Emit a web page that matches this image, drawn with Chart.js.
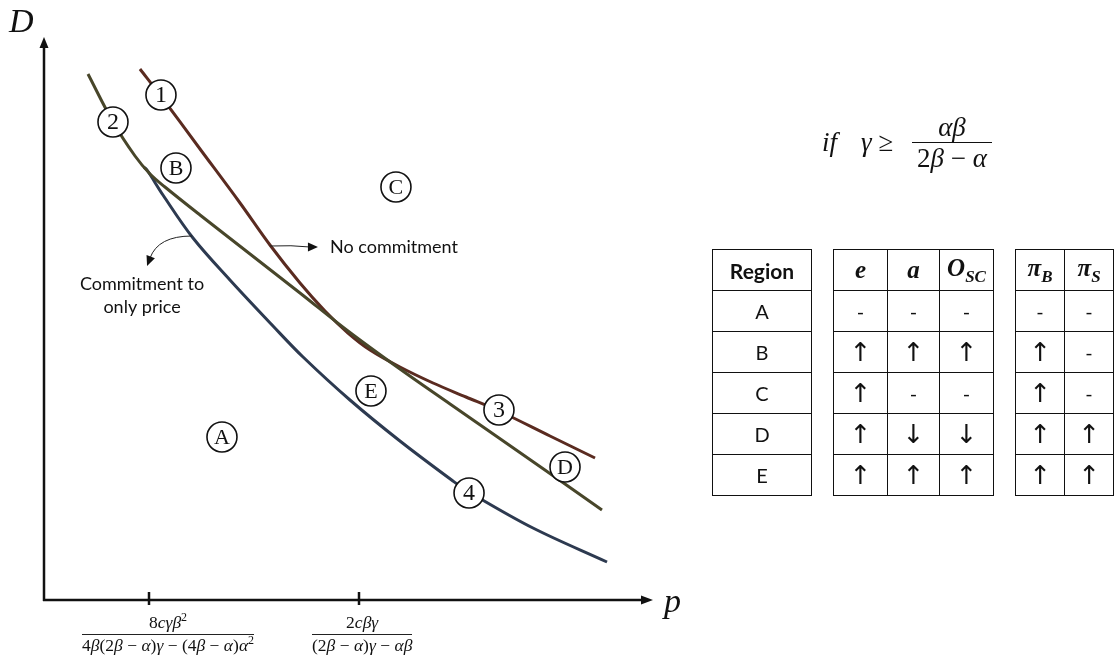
<!DOCTYPE html>
<html>
<head>
<meta charset="utf-8">
<script src="https://cdn.jsdelivr.net/npm/chart.js@4/dist/chart.umd.min.js"></script>
<style>
  html, body { margin: 0; padding: 0; background: #fff; width: 1114px; height: 663px; overflow: hidden; }
  #wrap { position: relative; width: 1114px; height: 663px; }
  #plot { position: absolute; left: 0; top: 0; }
  .mathtxt { font-family: "Liberation Serif", "DejaVu Serif", serif; color: #111; }
  .mathtxt i { font-style: italic; }
  .frac { position: absolute; text-align: center; font-size: 17.5px; line-height: 19px; white-space: nowrap; }
  .frac .num { border-bottom: 1px solid #222; padding-bottom: 2px; }
  .frac .den { padding-top: 1px; }
  .axisname { position: absolute; font-family: "Liberation Serif", serif; font-style: italic; font-size: 34px; color: #111; }
  .cond { position: absolute; font-size: 27px; line-height: 30px; white-space: nowrap; }
  .cond .n { border-bottom: 1.5px solid #111; text-align: center; }
  .cond .d { text-align: center; }
  table.grid { position: absolute; border-collapse: collapse; table-layout: fixed; }
  table.grid td { border: 1.5px solid #111; padding: 0; height: 40px; text-align: center; vertical-align: middle; font-family: Lato, "Open Sans", sans-serif; font-size: 20px; color: #111; }
  table.grid td.hd { font-weight: bold; font-size: 21px; }
  table.grid td.hm { font-family: "Liberation Serif", "DejaVu Serif", serif; font-style: italic; font-weight: bold; font-size: 25px; }
  table.grid td.hm sub { font-size: 17px; vertical-align: -6px; }
  table.grid td.ar { font-family: "DejaVu Sans", sans-serif; font-size: 26px; line-height: 30px; }
</style>
</head>
<body>
<div id="wrap">
  <canvas id="plot" width="1114" height="663"></canvas>
</div>
<script>
// Price p (horizontal) and demand D (vertical) along each boundary curve.
const noCommitP = [0.914, 1.105, 1.486, 1.867, 2.152, 2.438, 2.676, 2.895, 3.105, 3.390, 3.705, 4.019, 4.333, 4.819, 5.248];
const noCommitD = [5.31, 5.05, 4.51, 3.97, 3.55, 3.17, 2.89, 2.67, 2.50, 2.33, 2.17, 2.03, 1.89, 1.64, 1.42];

const curve2P = [0.419, 0.657, 0.867, 1.010, 1.152, 1.486, 1.962, 2.438, 2.895, 3.390, 3.867, 4.333, 4.962, 5.314];
const curve2D = [5.26, 4.78, 4.44, 4.26, 4.13, 3.85, 3.46, 3.07, 2.69, 2.31, 1.96, 1.62, 1.16, 0.90];

const priceOnlyP = [0.950, 0.981, 1.133, 1.419, 1.771, 2.181, 2.467, 2.914, 3.390, 3.895, 4.048, 4.657, 5.362];
const priceOnlyD = [4.33, 4.30, 4.05, 3.62, 3.20, 2.74, 2.43, 2.00, 1.59, 1.19, 1.08, 0.72, 0.38];

// Threshold prices marked on the p axis and their formulas.
const tickP = [1, 3];
const tickNum = ['8cγβ²', '2cβγ'];
const tickDen = ['4β(2β − α)γ − (4β − α)α²', '(2β − α)γ − αβ'];

// Circled curve numbers and region letters (anchored in p, D units).
const markText = ['1', '2', '3', '4', 'A', 'B', 'C', 'D', 'E'];
const markP = [1.114, 0.657, 4.333, 4.048, 1.695, 1.257, 3.352, 4.962, 3.114];
const markD = [5.05, 4.78, 1.90, 1.07, 1.63, 4.32, 4.13, 1.33, 2.09];

// Effect table by region.
const regions = ['A', 'B', 'C', 'D', 'E'];
const effE   = ['-', '↑', '↑', '↑', '↑'];
const effA   = ['-', '↑', '-', '↓', '↑'];
const effOsc = ['-', '↑', '-', '↓', '↑'];
const effPiB = ['-', '↑', '↑', '↑', '↑'];
const effPiS = ['-', '-', '-', '↑', '↑'];

const zip = (xs, ys) => xs.map((x, i) => ({ x, y: ys[i] }));

function arrowHead(ctx, x, y, angle, len, half) {
  ctx.save();
  ctx.translate(x, y);
  ctx.rotate(angle);
  ctx.beginPath();
  ctx.moveTo(0, 0);
  ctx.lineTo(-len, -half);
  ctx.lineTo(-len, half);
  ctx.closePath();
  ctx.fill();
  ctx.restore();
}

const diagram = {
  id: 'diagram',
  beforeDatasetsDraw(chart) {
    const { ctx, chartArea, scales } = chart;
    const x0 = scales.x.getPixelForValue(0);
    const y0 = scales.y.getPixelForValue(0);
    ctx.save();
    ctx.strokeStyle = '#111';
    ctx.fillStyle = '#111';
    ctx.lineWidth = 2.5;
    // vertical axis
    ctx.beginPath();
    ctx.moveTo(x0, y0 + 1);
    ctx.lineTo(x0, chartArea.top + 6);
    ctx.stroke();
    arrowHead(ctx, x0, chartArea.top - 3, -Math.PI / 2, 11, 4.5);
    // horizontal axis
    ctx.beginPath();
    ctx.moveTo(x0 - 1, y0);
    ctx.lineTo(chartArea.right - 8, y0);
    ctx.stroke();
    arrowHead(ctx, chartArea.right, y0, 0, 12, 4.5);
    // threshold ticks
    tickP.forEach(p => {
      const tx = scales.x.getPixelForValue(p);
      ctx.beginPath();
      ctx.moveTo(tx, y0 - 8);
      ctx.lineTo(tx, y0 + 5);
      ctx.stroke();
    });
    ctx.restore();
  },
  afterDatasetsDraw(chart) {
    const { ctx, scales } = chart;
    const X = v => scales.x.getPixelForValue(v);
    const Y = v => scales.y.getPixelForValue(v);
    ctx.save();
    ctx.strokeStyle = '#222';
    ctx.fillStyle = '#111';
    ctx.lineWidth = 1;

    // "No commitment" pointer, starting on the upper curve
    const a1x = X(2.152), a1y = Y(3.54);
    ctx.beginPath();
    ctx.moveTo(a1x, a1y);
    ctx.quadraticCurveTo(a1x + 22, a1y - 1, a1x + 40, a1y + 1);
    ctx.stroke();
    arrowHead(ctx, a1x + 48, a1y + 1, 0, 10, 4.5);
    ctx.font = '18px Lato, "Open Sans", sans-serif';
    ctx.textAlign = 'left';
    ctx.textBaseline = 'middle';
    ctx.fillText('No commitment', a1x + 60, a1y + 1);

    // "Commitment to only price" pointer, starting on the lower curve
    const a2x = X(1.41), a2y = Y(3.64);
    ctx.beginPath();
    ctx.moveTo(a2x, a2y);
    ctx.quadraticCurveTo(a2x - 34, a2y + 0, a2x - 42, a2y + 22);
    ctx.stroke();
    arrowHead(ctx, a2x - 45, a2y + 30, Math.PI * 0.62, 10, 4.5);
    ctx.textAlign = 'center';
    ctx.fillText('Commitment to', a2x - 50, a2y + 48);
    ctx.fillText('only price', a2x - 50, a2y + 71);

    // circled markers
    markText.forEach((t, i) => {
      const cx = X(markP[i]), cy = Y(markD[i]);
      ctx.beginPath();
      ctx.arc(cx, cy, 15, 0, Math.PI * 2);
      ctx.fillStyle = '#fff';
      ctx.fill();
      ctx.lineWidth = 1.6;
      ctx.strokeStyle = '#111';
      ctx.stroke();
      ctx.fillStyle = '#111';
      ctx.font = (/[0-9]/.test(t) ? '24px' : '22px') + ' "Liberation Serif", serif';
      ctx.textAlign = 'center';
      ctx.textBaseline = 'middle';
      ctx.fillText(t, cx, cy + 1);
    });
    ctx.restore();
  }
};

const lineStyle = (color, order) => ({
  showLine: true,
  borderColor: color,
  borderWidth: 3,
  pointRadius: 0,
  pointHoverRadius: 0,
  tension: 0.35,
  order: order,
  fill: false
});

const chart = new Chart(document.getElementById('plot'), {
  type: 'scatter',
  data: {
    datasets: [
      Object.assign({ label: 'Commitment to only price', data: zip(priceOnlyP, priceOnlyD) }, lineStyle('#2d3a50', 3)),
      Object.assign({ label: 'Curve 2', data: zip(curve2P, curve2D) }, lineStyle('#48462a', 1)),
      Object.assign({ label: 'No commitment', data: zip(noCommitP, noCommitD) }, lineStyle('#5a2b20', 2))
    ]
  },
  options: {
    responsive: false,
    animation: false,
    events: [],
    layout: { padding: { left: 44, right: 461, top: 40, bottom: 63 } },
    scales: {
      x: { type: 'linear', min: 0, max: 5.8, display: false },
      y: { type: 'linear', min: 0, max: 5.6, display: false }
    },
    plugins: { legend: { display: false }, tooltip: { enabled: false } }
  },
  plugins: [diagram]
});

// --- text overlays: axis names, threshold formulas, condition, table ---
const wrap = document.getElementById('wrap');
const mathHtml = s => s.replace(/([a-zαβγ])/g, '<i>$1</i>').replace(/²/g, '<sup style="font-size:12px;line-height:0">2</sup>');

function addEl(tag, cls, html, style) {
  const el = document.createElement(tag);
  if (cls) el.className = cls;
  el.innerHTML = html;
  Object.assign(el.style, style || {});
  wrap.appendChild(el);
  return el;
}

addEl('div', 'axisname', 'D', { left: '9px', top: '2px' });
addEl('div', 'axisname', 'p', { left: '664px', top: '582px' });

const labelShift = [19, 3];
tickP.forEach((p, i) => {
  const cx = chart.scales.x.getPixelForValue(p) + labelShift[i];
  const el = addEl('div', 'frac mathtxt',
    '<div class="num">' + mathHtml(tickNum[i]) + '</div><div class="den">' + mathHtml(tickDen[i]) + '</div>',
    { top: '613px' });
  const w = el.offsetWidth;
  el.style.left = (cx - w / 2) + 'px';
});

// condition shown above the table
addEl('div', 'cond mathtxt', '<i>if</i>', { left: '822px', top: '127px' });
addEl('div', 'cond mathtxt', '<i>γ</i> ≥', { left: '861px', top: '127px' });
addEl('div', 'cond mathtxt', '<div class="n"><i>αβ</i></div><div class="d">2<i>β</i> − <i>α</i></div>',
  { left: '912px', top: '112px', width: '80px' });

function buildTable(left, widths, header, cols) {
  const t = document.createElement('table');
  t.className = 'grid';
  t.style.left = left + 'px';
  t.style.top = '249px';
  const cg = document.createElement('colgroup');
  widths.forEach(w => { const c = document.createElement('col'); c.style.width = w + 'px'; cg.appendChild(c); });
  t.appendChild(cg);
  const hr = document.createElement('tr');
  header.forEach(h => {
    const td = document.createElement('td');
    td.className = h.cls;
    td.innerHTML = h.html;
    hr.appendChild(td);
  });
  t.appendChild(hr);
  regions.forEach((r, i) => {
    const tr = document.createElement('tr');
    cols.forEach(col => {
      const td = document.createElement('td');
      const v = col[i];
      if (v === '↑' || v === '↓') td.className = 'ar';
      td.textContent = v;
      tr.appendChild(td);
    });
    t.appendChild(tr);
  });
  wrap.appendChild(t);
}

buildTable(712, [99], [{ cls: 'hd', html: 'Region' }], [regions]);
buildTable(833, [54, 52, 54],
  [{ cls: 'hm', html: 'e' }, { cls: 'hm', html: 'a' }, { cls: 'hm', html: 'O<sub>SC</sub>' }],
  [effE, effA, effOsc]);
buildTable(1015, [53, 53],
  [{ cls: 'hm', html: 'π<sub>B</sub>' }, { cls: 'hm', html: 'π<sub>S</sub>' }],
  [effPiB, effPiS]);
</script>
</body>
</html>
